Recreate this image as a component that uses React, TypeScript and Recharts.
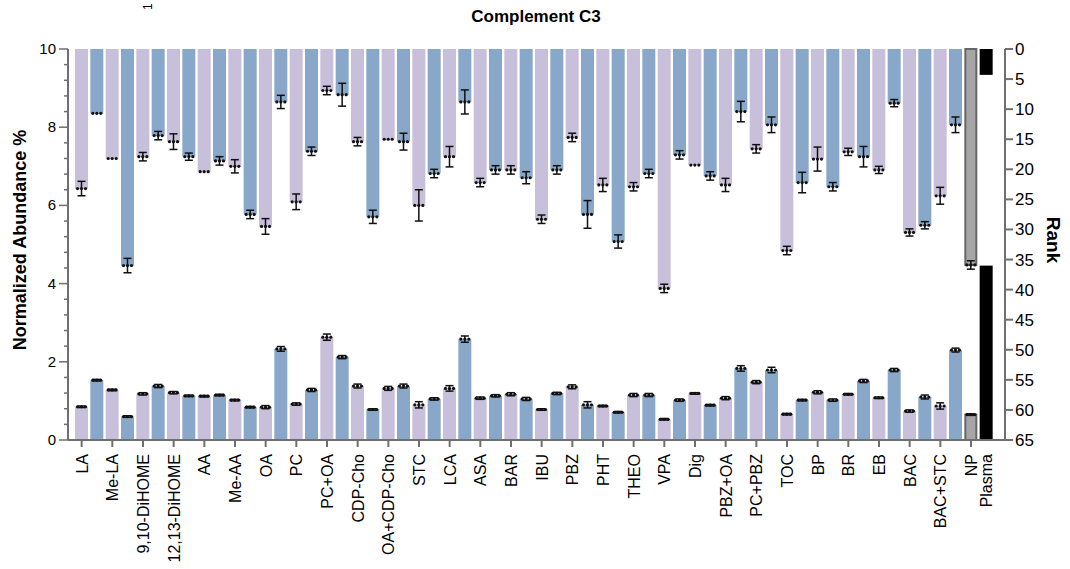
import React from "react";
import { ComposedChart, Bar, XAxis, YAxis, ErrorBar } from "recharts";

// categories (each labelled one is followed by an unlabelled partner bar)
const groups = [
  "LA", "Me-LA", "9,10-DiHOME", "12,13-DiHOME", "AA", "Me-AA", "OA", "PC", "PC+OA",
  "CDP-Cho", "OA+CDP-Cho", "STC", "LCA", "ASA", "BAR", "IBU", "PBZ", "PHT", "THEO",
  "VPA", "Dig", "PBZ+OA", "PC+PBZ", "TOC", "BP", "BR", "EB", "BAC", "BAC+STC",
];
const controls = ["NP", "Plasma"];

// normalized abundance % (bottom bars, left axis)
const abundance = [
  0.85, 1.53, 1.28, 0.6, 1.18, 1.38, 1.21, 1.13, 1.12, 1.15, 1.02, 0.84, 0.84, 2.33, 0.92,
  1.28, 2.63, 2.12, 1.38, 0.78, 1.32, 1.38, 0.9, 1.05, 1.32, 2.58, 1.07, 1.13, 1.17, 1.05,
  0.78, 1.19, 1.36, 0.9, 0.87, 0.71, 1.15, 1.15, 0.53, 1.02, 1.19, 0.89, 1.07, 1.83, 1.48,
  1.79, 0.66, 1.02, 1.22, 1.02, 1.17, 1.51, 1.08, 1.79, 0.74, 1.1, 0.87, 2.3, 0.65, 4.46,
];
const abundanceErr = [
  0.02, 0.02, 0.02, 0.02, 0.03, 0.04, 0.03, 0.02, 0.02, 0.02, 0.02, 0.02, 0.04, 0.06, 0.03,
  0.04, 0.08, 0.04, 0.05, 0.02, 0.05, 0.05, 0.08, 0.03, 0.07, 0.08, 0.03, 0.03, 0.04, 0.04,
  0.02, 0.03, 0.05, 0.08, 0.02, 0.02, 0.04, 0.04, 0.02, 0.03, 0.02, 0.02, 0.04, 0.07, 0.04,
  0.07, 0.02, 0.02, 0.04, 0.03, 0.02, 0.04, 0.02, 0.04, 0.03, 0.05, 0.08, 0.05, 0.02, 0,
];

// rank (top bars, right axis, reversed)
const rank = [
  23.2, 10.7, 18.2, 36.0, 17.9, 14.4, 15.4, 17.9, 20.4, 18.6, 19.5, 27.5, 29.5, 8.8, 25.4,
  17.0, 6.9, 7.6, 15.4, 27.9, 15.0, 15.4, 26.0, 20.7, 17.9, 8.8, 22.2, 20.1, 20.1, 21.4,
  28.3, 20.1, 14.7, 27.5, 22.6, 32.0, 22.9, 20.7, 39.8, 17.6, 19.3, 21.1, 22.6, 10.4, 16.6,
  12.6, 33.5, 22.2, 18.3, 22.9, 17.1, 17.9, 20.1, 9.0, 30.5, 29.3, 24.4, 12.6, 35.9, 4.3,
];
const rankErr = [
  1.2, 0, 0, 1.2, 0.7, 0.7, 1.3, 0.6, 0, 0.7, 1.1, 0.7, 1.3, 1.1, 1.3,
  0.7, 0.7, 1.9, 0.7, 1.1, 0, 1.4, 2.6, 0.7, 1.7, 2.0, 0.7, 0.7, 0.7, 1.0,
  0.7, 0.7, 0.7, 2.3, 1.1, 1.1, 0.7, 0.7, 0.7, 0.7, 0, 0.7, 1.1, 1.7, 0.7,
  1.3, 0.7, 1.7, 2.0, 0.7, 0.6, 1.7, 0.6, 0.6, 0.6, 0.6, 1.4, 1.3, 0.7, 0,
];

const leftTicks = [
  0, 0.4, 0.8, 1.2, 1.6, 2, 2.4, 2.8, 3.2, 3.6, 4, 4.4, 4.8, 5.2, 5.6, 6, 6.4, 6.8, 7.2,
  7.6, 8, 8.4, 8.8, 9.2, 9.6, 10,
];
const rankTicks = [0, 5, 10, 15, 20, 25, 30, 35, 40, 45, 50, 55, 60, 65];

const PURPLE = "#c8bfda";
const BLUE = "#88a7c9";
const GREY = "#a6a6a6";
const AXIS = "#6f6f6f";
const FONT = "'Liberation Sans', Arial, sans-serif";

const names: string[] = [];
groups.forEach((g) => names.push(g, ""));
controls.forEach((c) => names.push(c));

const data = names.map((name, i) => ({
  id: String(i),
  name,
  abund: abundance[i],
  abErr: abundanceErr[i],
  rank: rank[i],
  rkErr: rankErr[i],
  color: name === "NP" ? GREY : name === "Plasma" ? "#000" : i % 2 === 0 ? PURPLE : BLUE,
}));

function BarShape(props: any) {
  const { x, y, width, height, payload, hang } = props;
  if (width == null || height == null) return null;
  const top = Math.min(y, y + height);
  const h = Math.abs(height);
  const isNP = payload.name === "NP";
  const endY = hang ? top + h : top;
  const cx = x + width / 2;
  return (
    <g>
      <rect
        x={isNP ? x + 1 : x}
        y={top}
        width={isNP ? width - 2 : width}
        height={h}
        fill={payload.color}
        stroke={isNP ? "#666" : "none"}
        strokeWidth={isNP ? 2 : 0}
      />
      {payload.name !== "Plasma" &&
        [-4, 0, 4].map((dx) => (
          <circle key={dx} cx={cx + dx} cy={endY} r={1.6} fill="#111" />
        ))}
    </g>
  );
}

function XTick({ x, y, payload }: any) {
  const name = names[Number(payload.value)];
  if (!name) return null;
  return (
    <g>
      {name !== "Plasma" && (
        <line x1={x} x2={x} y1={y} y2={y + 7} stroke={AXIS} strokeWidth={2} />
      )}
      <text
        x={x + 6}
        y={y + 14}
        transform={`rotate(-90, ${x + 6}, ${y + 14})`}
        textAnchor="end"
        fontSize={16}
        fontFamily={FONT}
        fill="#000"
      >
        {name}
      </text>
    </g>
  );
}

function LeftTick({ x, y, payload }: any) {
  const v = payload.value as number;
  const major = Math.abs(v - Math.round(v)) < 1e-6 && Math.round(v) % 2 === 0;
  return (
    <g>
      <line x1={x - (major ? 9 : 4)} x2={x} y1={y} y2={y} stroke={AXIS} strokeWidth={1.5} />
      {major && (
        <text x={x - 12} y={y + 5} textAnchor="end" fontSize={15} fontFamily={FONT} fill="#000">
          {v}
        </text>
      )}
    </g>
  );
}

export default function App() {
  return (
    <div style={{ position: "absolute", left: 0, top: 0, width: 1070, height: 569, background: "#fff" }}>
      <ComposedChart
        width={1070}
        height={569}
        data={data}
        margin={{ top: 49, right: 15, bottom: 9, left: 8 }}
      >
        <XAxis
          xAxisId="a"
          dataKey="id"
          interval={0}
          height={120}
          tick={<XTick />}
          tickLine={false}
          tickSize={0}
          tickMargin={0}
          axisLine={{ stroke: AXIS, strokeWidth: 2 }}
          padding={{ left: 6, right: 11 }}
        />
        <XAxis
          xAxisId="b"
          dataKey="id"
          orientation="top"
          height={0}
          tick={false}
          tickLine={false}
          axisLine={{ stroke: AXIS, strokeWidth: 2 }}
          padding={{ left: 6, right: 11 }}
        />
        <YAxis
          yAxisId="left"
          domain={[0, 10]}
          ticks={leftTicks}
          interval={0}
          width={60}
          tick={<LeftTick />}
          tickLine={false}
          tickSize={0}
          tickMargin={0}
          axisLine={{ stroke: AXIS, strokeWidth: 2 }}
        />
        <YAxis
          yAxisId="right"
          orientation="right"
          reversed
          domain={[0, 65]}
          ticks={rankTicks}
          interval={0}
          width={50}
          tickSize={8}
          tickMargin={2}
          tick={{ fontSize: 17, fill: "#000", fontFamily: FONT }}
          tickLine={{ stroke: AXIS, strokeWidth: 2 }}
          axisLine={{ stroke: AXIS, strokeWidth: 2 }}
        />
        <Bar
          xAxisId="b"
          yAxisId="right"
          dataKey="rank"
          barSize={13}
          isAnimationActive={false}
          shape={(p: any) => <BarShape {...p} hang />}
        >
          <ErrorBar dataKey="rkErr" width={4} stroke="#111" strokeWidth={1.5} direction="y" />
        </Bar>
        <Bar
          xAxisId="a"
          yAxisId="left"
          dataKey="abund"
          barSize={13}
          isAnimationActive={false}
          shape={(p: any) => <BarShape {...p} hang={false} />}
        >
          <ErrorBar dataKey="abErr" width={4} stroke="#111" strokeWidth={1.5} direction="y" />
        </Bar>
      </ComposedChart>
      <svg
        width={1070}
        height={569}
        style={{ position: "absolute", left: 0, top: 0, pointerEvents: "none" }}
      >
        <text x={536} y={22} textAnchor="middle" fontSize={17} fontWeight="bold" fontFamily={FONT}>
          Complement C3
        </text>
        <text
          x={26}
          y={240}
          transform="rotate(-90, 26, 240)"
          textAnchor="middle"
          fontSize={18}
          fontWeight="bold"
          fontFamily={FONT}
        >
          Normalized Abundance %
        </text>
        <text
          x={1047}
          y={240}
          transform="rotate(90, 1047, 240)"
          textAnchor="middle"
          fontSize={19}
          fontWeight="bold"
          fontFamily={FONT}
        >
          Rank
        </text>
        <text
          x={152}
          y={10}
          transform="rotate(-90, 152, 10)"
          textAnchor="start"
          fontSize={12}
          fontFamily={FONT}
        >
          1
        </text>
      </svg>
    </div>
  );
}
